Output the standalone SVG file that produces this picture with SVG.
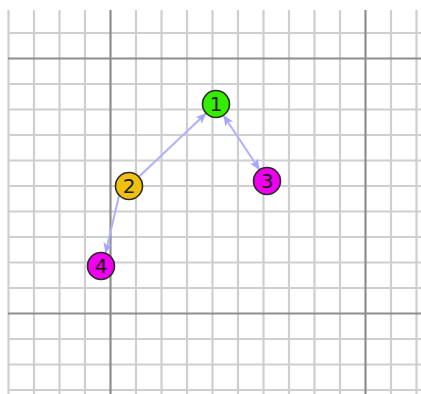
<svg xmlns="http://www.w3.org/2000/svg" width="421" height="394" viewBox="0 0 421 394">
  <style>
    .minor { stroke: #cfcfcf; stroke-width: 2.2; fill: none; }
    .major { stroke: #8e8e8e; stroke-width: 2.2; fill: none; }
    .edge { stroke: #b0b0ff; stroke-width: 2; fill: none; }
    .node circle { stroke: #2a2a2a; stroke-width: 1.6; }
    .node text { font-family: "DejaVu Sans", sans-serif; font-size: 20px; fill: #1a1a1a; text-anchor: middle; dominant-baseline: central; }
  </style>
  <defs>
    <marker id="arrow" viewBox="0 0 11 9" refX="10" refY="4.5" markerWidth="11" markerHeight="9" markerUnits="userSpaceOnUse" orient="auto-start-reverse">
      <path d="M0,0 L11,4.5 L0,9 L2.5,4.5 Z" fill="#a6a6ff"/>
    </marker>
  </defs>
  <rect width="421" height="394" fill="#ffffff"/>

  <!-- background grid -->
  <g id="grid">
    <path class="minor" d="M8.5,10V394 M34,10V394 M59.5,10V394 M85,10V394 M136,10V394 M161.5,10V394 M187,10V394 M212.5,10V394 M238,10V394 M263.5,10V394 M289,10V394 M314.5,10V394 M340,10V394 M391,10V394 M416.5,10V394"/>
    <path class="minor" d="M8,33H421 M8,84H421 M8,109.5H421 M8,135H421 M8,160.5H421 M8,186H421 M8,211.5H421 M8,237H421 M8,262.5H421 M8,288H421 M8,339H421 M8,364.5H421 M8,390H421"/>
    <path class="major" d="M110.5,10V394 M365.5,10V394 M8,58.5H421 M8,313.5H421"/>
  </g>

  <!-- connectors -->
  <g id="edges">
    <line class="edge" x1="139.2" y1="176.4" x2="205.8" y2="113.6" marker-end="url(#arrow)"/>
    <line class="edge" x1="223.7" y1="115.7" x2="259.3" y2="169.3" marker-start="url(#arrow)" marker-end="url(#arrow)"/>
    <line class="edge" x1="105.6" y1="252.8" x2="124.4" y2="172.8" marker-start="url(#arrow)" marker-end="url(#arrow)"/>
  </g>

  <!-- nodes -->
  <g id="node1" class="node">
    <circle cx="216" cy="104" r="13.5" fill="#33ee00"/>
    <text x="216" y="104">1</text>
  </g>
  <g id="node2" class="node">
    <circle cx="129" cy="186" r="13.5" fill="#f0c010"/>
    <text x="129" y="186">2</text>
  </g>
  <g id="node3" class="node">
    <circle cx="267" cy="181" r="13.5" fill="#ee00ee"/>
    <text x="267" y="181">3</text>
  </g>
  <g id="node4" class="node">
    <circle cx="101" cy="266" r="13.5" fill="#ee00ee"/>
    <text x="101" y="266">4</text>
  </g>
</svg>
